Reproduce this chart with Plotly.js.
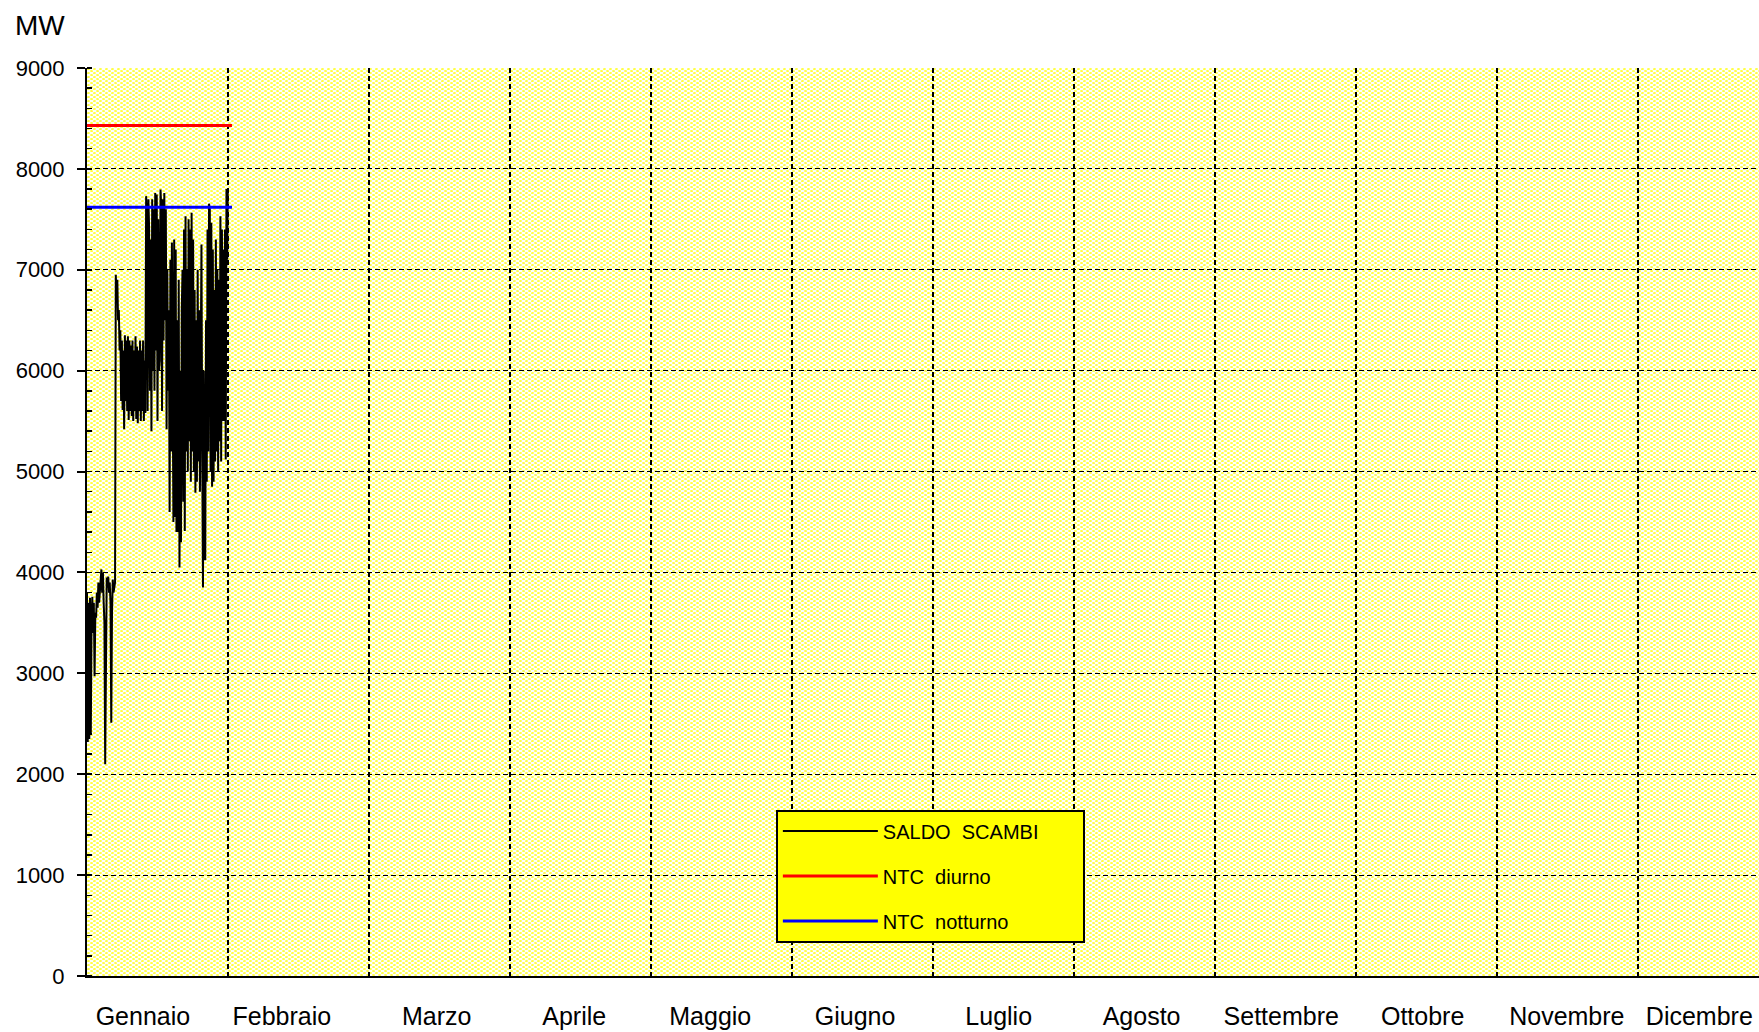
<!DOCTYPE html>
<html>
<head>
<meta charset="utf-8">
<script src="https://cdn.plot.ly/plotly-3.0.1.min.js"></script>
<style>
  html, body { margin: 0; padding: 0; background: #ffffff; }
  #chart { width: 1759px; height: 1032px; }
</style>
</head>
<body>
<div id="chart"></div>
<script>
// ---------------- DATA ----------------
// Month names (x-axis labels)
const mesi = ["Gennaio","Febbraio","Marzo","Aprile","Maggio","Giugno","Luglio","Agosto","Settembre","Ottobre","Novembre","Dicembre"];
// x axis unit: hours, each month shown with an equal width of 744 h
const confiniMesi = [744,1488,2232,2976,3720,4464,5208,5952,6696,7440,8184];   // month boundaries (grid)
const posEtichette = [295,1028,1845,2571,3289,4053,4811,5565,6302,7048,7809,8508]; // label positions

// SALDO SCAMBI (MW), January, sampled every 4 hours
const saldoOre = [
  0,4,8,12,16,20, 24,28,32,36,40,44, 48,52,56,60,64,68, 72,76,80,84,88,92,
  96,100,104,108,112,116, 120,124,128,132,136,140, 144,148,152,156,160,164,
  168,172,176,180,184,188, 192,196,200,204,208,212, 216,220,224,228,232,236,
  240,244,248,252,256,260, 264,268,272,276,280,284, 288,292,296,300,304,308,
  312,316,320,324,328,332, 336,340,344,348,352,356, 360,364,368,372,376,380,
  384,388,392,396,400,404, 408,412,416,420,424,428, 432,436,440,444,448,452,
  456,460,464,468,472,476, 480,484,488,492,496,500, 504,508,512,516,520,524,
  528,532,536,540,544,548, 552,556,560,564,568,572, 576,580,584,588,592,596,
  600,604,608,612,616,620, 624,628,632,636,640,644, 648,652,656,660,664,668,
  672,676,680,684,688,692, 696,700,704,708,712,716, 720,724,728,732,736,740,743
];
const saldoMW = [
  3800,2320,3700,2350,3750,2400,  3500,3760,3400,3700,2970,3600,
  3550,3800,3650,3900,3700,3850,  3900,4030,3800,4000,3700,3500,
  2100,3300,3950,3850,3960,3800,  3900,3700,2510,3600,3930,3800,
  3850,3900,6950,6700,6900,6500,  6600,6200,6400,5700,6300,5610,
  6200,5420,6350,5700,6300,5600,  6340,5510,6300,5600,6250,5550,
  6300,5500,6200,5600,6340,5520,  6240,5480,6200,5600,6300,5500,
  6200,5600,6300,5500,6100,5580,  7730,7500,5600,7700,7400,5800,
  7300,5400,7700,6000,7600,5800,  7760,6200,7745,5500,7500,6000,
  6100,7795,7600,5600,7700,6300,  7760,6500,7600,5420,7000,5800,
  6600,4600,7100,5200,7270,4500,  4500,7300,4550,7200,4400,6500,
  4400,6900,4050,6000,4300,6600,  7000,4700,7400,4410,7530,5200,
  7000,5000,7500,5300,7400,4900,  7565,5200,7300,5000,6800,4790,
  6500,4900,7000,5100,6600,4800,  7000,7250,5200,3850,6000,4130,
  4130,6500,4900,7400,5200,7655,  7600,5000,7465,4850,7200,4900,
  6800,5100,7300,5200,7000,5000,  6900,5300,7530,5100,7400,5500,
  7200,5500,7400,5120,7800,7100,7800
];

// NTC lines (MW)
const ntcOre = [0, 765];
const ntcDiurno = [8430, 8430];
const ntcNotturno = [7620, 7620];

// ---------------- STYLE ----------------
const FONT = '"Liberation Sans", Arial, Helvetica, sans-serif';
const plotW = 1672, plotH = 908;
const PAD = '\u00a0\u00a0\u00a0\u00a0\u00a0\u00a0\u00a0';

const patternSvg =
  '<svg xmlns="http://www.w3.org/2000/svg" width="' + plotW + '" height="' + plotH + '" preserveAspectRatio="none">' +
  '<defs><pattern id="p" width="6" height="4" patternUnits="userSpaceOnUse">' +
  '<rect width="6" height="4" fill="#ffffff"/>' +
  '<ellipse cx="1.5" cy="1" rx="1.55" ry="0.8" fill="#ffff00"/>' +
  '<ellipse cx="4.5" cy="3" rx="1.55" ry="0.8" fill="#ffff00"/>' +
  '</pattern></defs>' +
  '<rect width="100%" height="100%" fill="url(#p)"/></svg>';

const traces = [
  {
    type: 'scatter', mode: 'lines', name: 'SALDO  SCAMBI' + PAD,
    x: saldoOre, y: saldoMW,
    line: { color: '#000000', width: 2 },
    legendgroup: 'a'
  },
  {
    type: 'scatter', mode: 'lines', name: 'NTC  diurno',
    x: ntcOre, y: ntcDiurno,
    line: { color: '#ff0000', width: 3 },
    legendgroup: 'b'
  },
  {
    type: 'scatter', mode: 'lines', name: 'NTC  notturno',
    x: ntcOre, y: ntcNotturno,
    line: { color: '#0000ff', width: 3 },
    legendgroup: 'c'
  }
];

const layout = {
  width: 1759, height: 1032,
  margin: { l: 87, r: 0, t: 68, b: 56, pad: 0 },
  paper_bgcolor: '#ffffff',
  plot_bgcolor: '#ffffff',
  font: { family: FONT, color: '#000000' },
  showlegend: true,
  legend: {
    x: 0.412, y: 0.1833, xanchor: 'left', yanchor: 'top',
    bgcolor: '#ffff00', bordercolor: '#000000', borderwidth: 2,
    font: { family: FONT, size: 20, color: '#000000' },
    traceorder: 'grouped', tracegroupgap: 16,
    itemwidth: 95
  },
  xaxis: {
    range: [0, 8823],
    tickmode: 'array', tickvals: posEtichette, ticktext: mesi,
    tickangle: 0,
    ticks: '', showgrid: false, zeroline: false,
    tickfont: { family: FONT, size: 25, color: '#000000' },
    ticklabelstandoff: 17,
    showline: true, linecolor: '#000000', linewidth: 2,
    minor: {
      tickmode: 'array', tickvals: confiniMesi,
      showgrid: true, gridcolor: '#000000', gridwidth: 1.2, griddash: '5px,3px',
      ticks: ''
    }
  },
  yaxis: {
    range: [0, 9000],
    tickmode: 'linear', tick0: 0, dtick: 1000,
    ticks: 'outside', ticklen: 8, tickwidth: 2, tickcolor: '#000000',
    showgrid: true, gridcolor: '#000000', gridwidth: 1.2, griddash: '5px,3px',
    zeroline: false,
    showline: true, linecolor: '#000000', linewidth: 2,
    tickfont: { family: FONT, size: 22, color: '#000000' },
    ticklabelstandoff: 8,
    minor: { dtick: 200, ticks: 'inside', ticklen: 5, tickwidth: 1.5, tickcolor: '#000000', showgrid: false }
  },
  images: [{
    source: 'data:image/svg+xml;charset=utf-8,' + encodeURIComponent(patternSvg),
    xref: 'paper', yref: 'paper', x: 0, y: 1, sizex: 1, sizey: 1,
    xanchor: 'left', yanchor: 'top', sizing: 'stretch', layer: 'below'
  }],
  annotations: [{
    text: 'MW', xref: 'paper', yref: 'paper', x: 0, y: 1,
    xanchor: 'left', yanchor: 'middle', xshift: -74, yshift: 43,
    showarrow: false, font: { family: FONT, size: 28, color: '#000000' }
  }]
};

Plotly.newPlot('chart', traces, layout, { staticPlot: true, displayModeBar: false });
</script>
</body>
</html>
